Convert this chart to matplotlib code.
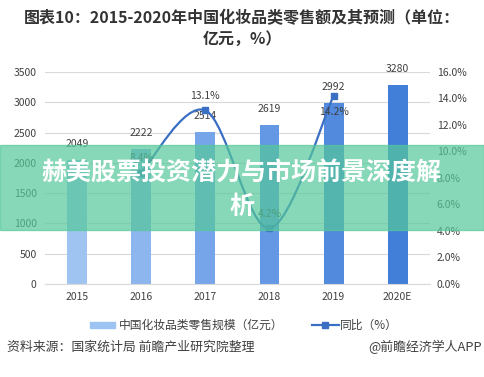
import matplotlib
matplotlib.use('Agg')
import matplotlib.pyplot as plt
from matplotlib.path import Path
from matplotlib.patches import PathPatch, Rectangle
from matplotlib.lines import Line2D
import numpy as np

plt.rcParams['font.family'] = ['Noto Sans CJK SC', 'DejaVu Sans']

# data
years = ['2015', '2016', '2017', '2018', '2019', '2020E']
sales = [2049, 2222, 2514, 2619, 2992, 3280]
growth_years = ['2016', '2017', '2018', '2019']
growth = [8.4, 13.1, 4.2, 14.2]
growth_labels = ['8.4%', '13.1%', '4.2%', '14.2%']

bar_colors = ['#a0c4f2', '#8db5ee', '#77a5ea', '#6497e4', '#528ade', '#417fd9']
line_color = '#3a6fc4'
txt = '#404040'

fig = plt.figure(figsize=(4.84, 3.77), dpi=100)
ax = fig.add_axes([0.093, 0.247, 0.795, 0.562])
ax2 = ax.twinx()

x = np.arange(len(years))
ax.bar(x, sales, width=0.31, color=bar_colors, zorder=2)
ax.set_xlim(-0.5, 5.5)
ax.set_ylim(0, 3500)
ax.set_yticks(range(0, 3501, 500))
ax.grid(axis='y', color='#d9d9d9', lw=0.8, zorder=0)
ax.set_axisbelow(True)
ax.set_xticks(x)
ax.set_xticklabels(years)
for s in ['top', 'left', 'right']:
    ax.spines[s].set_visible(False)
    ax2.spines[s].set_visible(False)
ax.spines['bottom'].set_color('#d9d9d9')
ax2.spines['bottom'].set_visible(False)
ax.tick_params(length=0, labelsize=7.5, colors=txt, pad=6)
ax2.tick_params(length=0, labelsize=7.5, colors=txt, pad=5)

for xi, v in zip(x, sales):
    ax.annotate(str(v), (xi, v), xytext=(0, 8), textcoords='offset points',
                ha='center', va='bottom', fontsize=7.5, color=txt)

ax2.set_ylim(0, 16)
ax2.set_yticks(range(0, 17, 2))
ax2.set_yticklabels(['%.1f%%' % t for t in range(0, 17, 2)])

# smooth curve (catmull-rom -> bezier) through growth points
gx = [years.index(y) for y in growth_years]
pts = list(zip(gx, growth))
verts = [pts[0]]
codes = [Path.MOVETO]
for i in range(len(pts) - 1):
    p0 = pts[i - 1] if i > 0 else pts[i]
    p1 = pts[i]
    p2 = pts[i + 1]
    p3 = pts[i + 2] if i + 2 < len(pts) else pts[i + 1]
    c1 = (p1[0] + (p2[0] - p0[0]) / 6, p1[1] + (p2[1] - p0[1]) / 6)
    c2 = (p2[0] - (p3[0] - p1[0]) / 6, p2[1] - (p3[1] - p1[1]) / 6)
    verts += [c1, c2, p2]
    codes += [Path.CURVE4] * 3
ax2.add_patch(PathPatch(Path(verts, codes), fill=False, ec=line_color, lw=1.6, zorder=3))
ax2.plot(gx, growth, ls='none', marker='s', ms=4.5, color=line_color, zorder=4)

offs = [(0, 7), (0, 7), (0, 7), (0, -8)]
for xi, v, lab, o in zip(gx, growth, growth_labels, offs):
    ax2.annotate(lab, (xi, v), xytext=o, textcoords='offset points', ha='center',
                 va='bottom' if o[1] > 0 else 'top', fontsize=7.5, color=txt)

# title
fig.text(0.5, 0.952, '图表10：2015-2020年中国化妆品类零售额及其预测（单位：',
         ha='center', va='center', fontsize=11.5, fontweight='bold', color='#333333')
fig.text(0.5, 0.898, '亿元，%）', ha='center', va='center', fontsize=11.5,
         fontweight='bold', color='#333333')

# legend
fig.patches.append(Rectangle((0.186, 0.129), 0.052, 0.018, transform=fig.transFigure,
                             color='#9dc3f2', figure=fig))
fig.text(0.245, 0.138, '中国化妆品类零售规模（亿元）', ha='left', va='center',
         fontsize=8.5, color=txt)
fig.lines.append(Line2D([0.645, 0.7], [0.138, 0.138], transform=fig.transFigure,
                        color=line_color, lw=1.6, figure=fig))
fig.lines.append(Line2D([0.6725], [0.138], transform=fig.transFigure, color=line_color,
                        marker='s', ms=4.5, ls='none', figure=fig))
fig.text(0.703, 0.138, '同比（%）', ha='left', va='center', fontsize=8.5, color=txt)

# source
fig.text(0.015, 0.08, '资料来源：国家统计局 前瞻产业研究院整理', ha='left', va='center',
         fontsize=9.3, color='#404040')
fig.text(0.995, 0.08, '@前瞻经济学人APP', ha='right', va='center', fontsize=9.3,
         color='#404040')

# overlay banner
fig.patches.append(Rectangle((0, 0.39), 1, 0.225, transform=fig.transFigure,
                             color='#55c89a', alpha=0.7, figure=fig, zorder=10))
fig.text(0.5, 0.541, '赫美股票投资潜力与市场前景深度解', ha='center', va='center',
         fontsize=18, fontweight='bold', color='white', zorder=11)
fig.text(0.5, 0.451, '析', ha='center', va='center', fontsize=18,
         fontweight='bold', color='white', zorder=11)

fig.savefig('out.png', dpi=100)
